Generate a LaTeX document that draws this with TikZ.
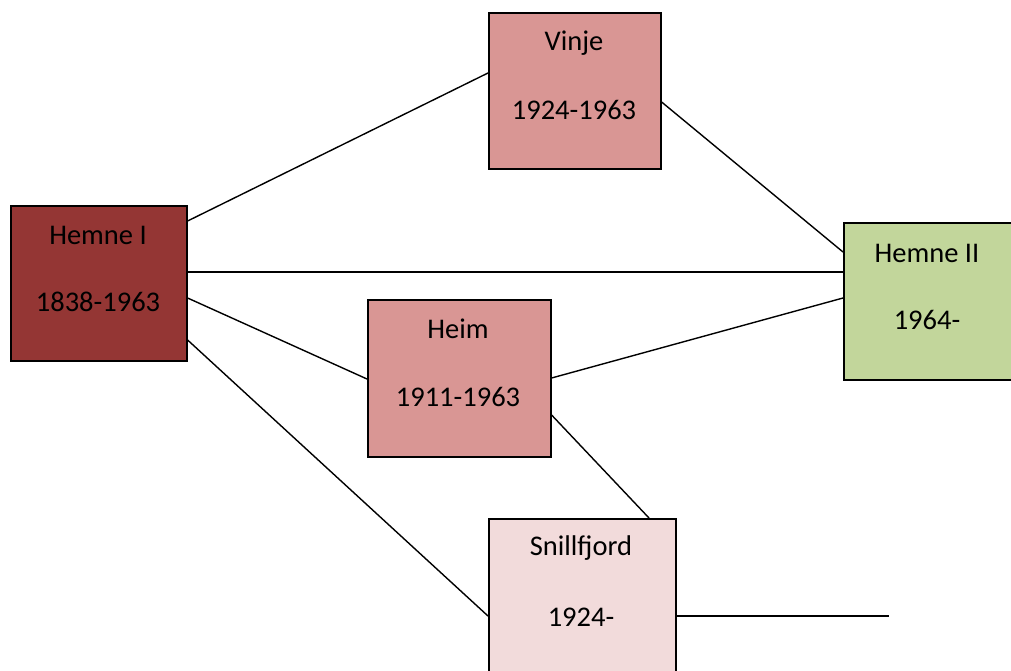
\documentclass[tikz,border=0pt]{standalone}
\usepackage{fontspec}
\setmainfont{Carlito}
\definecolor{darkred}{HTML}{943634}
\definecolor{midpink}{HTML}{D99694}
\definecolor{lightgreen}{HTML}{C2D69B}
\definecolor{lightpink}{HTML}{F2DBDB}
\begin{document}
\begin{tikzpicture}[x=1pt,y=-1pt,
  box/.style={draw=black,line width=1.6pt,anchor=north west,inner sep=0pt},
  lbl/.style={font=\fontsize{28.5}{34}\selectfont,inner sep=0pt},
  conn/.style={draw=black,line width=1.4pt}]
\useasboundingbox (0,0) rectangle (1011,671);
% boxes
\node[box,fill=darkred,minimum width=176pt,minimum height=155pt] (h1) at (10,205) {};
\node[box,fill=midpink,minimum width=172pt,minimum height=156pt] (vinje) at (488,12) {};
\node[box,fill=midpink,minimum width=183pt,minimum height=157pt] (heim) at (367,299) {};
\node[box,fill=lightgreen,minimum width=170pt,minimum height=157pt] (h2) at (843,222) {};
\node[box,fill=lightpink,minimum width=187pt,minimum height=160pt] (snill) at (488,518) {};
% texts
\node[lbl] (t1a) at (98,235) {Hemne I};
\node[lbl] (t1b) at (98,302) {1838-1963};
\node[lbl] (t2a) at (574,43) {Vinje};
\node[lbl] (t2b) at (574,110) {1924-1963};
\node[lbl] (t3a) at (458,329) {Heim};
\node[lbl] (t3b) at (458,397) {1911-1963};
\node[lbl] (t4a) at (927,253) {Hemne II};
\node[lbl] (t4b) at (927,320) {1964-};
\node[lbl] (t5a) at (581,548) {Snillfjord};
\node[lbl] (t5b) at (581,617) {1924-};
% connectors
\coordinate (free) at (889,616);
\draw[conn] ([yshift=-16pt]h1.north east) -- ([yshift=-61pt]vinje.north west);
\draw[conn] ([yshift=-90pt]vinje.north east) -- ([yshift=-30pt]h2.north west);
\draw[conn] ([yshift=-67pt]h1.north east) -- ([yshift=-50pt]h2.north west);
\draw[conn] ([yshift=-93pt]h1.north east) -- ([yshift=-80pt]heim.north west);
\draw[conn] ([yshift=-79pt]heim.north east) -- ([yshift=-76pt]h2.north west);
\draw[conn] ([yshift=-135pt]h1.north east) -- ([yshift=-98pt]snill.north west);
\draw[conn] ([yshift=-116pt]heim.north east) -- ([xshift=161pt]snill.north west);
\draw[conn] ([yshift=-98pt]snill.north east) -- (free);
\end{tikzpicture}
\end{document}
